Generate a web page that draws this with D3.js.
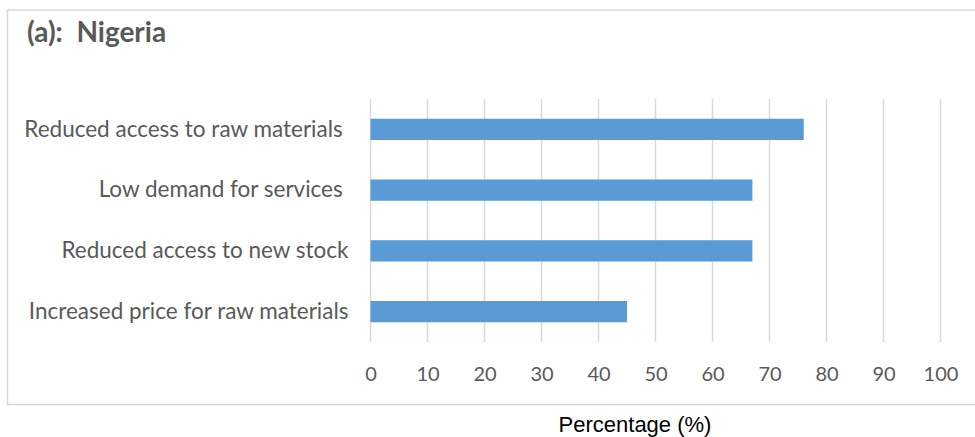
<!DOCTYPE html>
<html>
<head>
<meta charset="utf-8">
<script src="https://cdn.jsdelivr.net/npm/d3@7"></script>
<style>
  body { margin: 0; background: #fff; }
  text { white-space: pre; }
</style>
</head>
<body>
<div id="chart"></div>
<script>
const categories = [
    "Reduced access to raw materials ",
    "Low demand for services ",
    "Reduced access to new stock",
    "Increased price for raw materials"
];
const values = [76, 67, 67, 45];
const ticks = [0, 10, 20, 30, 40, 50, 60, 70, 80, 90, 100];

const WIDTH = 975;
const HEIGHT = 437;
const LEFT = 370.5;
const RIGHT = 940.5;
const TOP = 99;
const BOTTOM = 342;

const svg = d3.select("#chart")
    .append("svg")
    .attr("width", WIDTH)
    .attr("height", HEIGHT);

// chart frame
svg.append("path")
    .attr("d", "M975,10 H7.5 V404.5 H975")
    .attr("fill", "none")
    .attr("stroke", "#d9d9d9")
    .attr("stroke-width", 1.5);

const x = d3.scaleLinear().domain([0, 100]).range([LEFT, RIGHT]);
const y = d3.scaleBand().domain(categories).range([TOP, BOTTOM]).paddingInner(0.65).paddingOuter(0.325);

// gridlines
svg.selectAll("line.grid")
    .data(ticks)
    .enter()
    .append("line")
    .attr("class", "grid")
    .attr("x1", d => x(d))
    .attr("x2", d => x(d))
    .attr("y1", TOP)
    .attr("y2", BOTTOM)
    .attr("stroke", "#d9d9d9")
    .attr("stroke-width", 1.5);

svg.selectAll("rect.bar")
    .data(categories)
    .enter()
    .append("rect")
    .attr("class", "bar")
    .attr("x", x(0))
    .attr("y", d => y(d))
    .attr("width", (d, i) => x(values[i]) - x(0))
    .attr("height", y.bandwidth())
    .attr("fill", "#5b9bd5");

// x tick labels
const xAxis = d3.axisBottom(x).tickValues(ticks).tickSize(0).tickPadding(0);
const gx = svg.append("g").attr("transform", `translate(0,${BOTTOM + 25})`).call(xAxis);
gx.select(".domain").remove();
gx.selectAll("text")
    .attr("fill", "#595959")
    .attr("font-family", "Lato, 'Open Sans', sans-serif")
    .attr("font-size", 20);

// y category labels
const yAxis = d3.axisLeft(y).tickSize(0).tickPadding(0);
const gy = svg.append("g").attr("transform", `translate(${LEFT - 22},0)`).call(yAxis);
gy.select(".domain").remove();
gy.selectAll("text")
    .attr("fill", "#595959")
    .attr("font-family", "Lato, 'Open Sans', sans-serif")
    .attr("font-size", 22.5);

svg.append("text")
    .attr("x", 27)
    .attr("y", 42)
    .attr("fill", "#595959")
    .attr("font-family", "Lato, 'Open Sans', sans-serif")
    .attr("font-weight", "bold")
    .attr("font-size", 28)
    .text("(a):  Nigeria");

svg.append("text")
    .attr("x", 635)
    .attr("y", 432)
    .attr("text-anchor", "middle")
    .attr("fill", "#000")
    .attr("font-family", "'Liberation Sans Narrow', 'Arial Narrow', sans-serif")
    .attr("font-size", 22)
    .text("Percentage (%)");
</script>
</body>
</html>
